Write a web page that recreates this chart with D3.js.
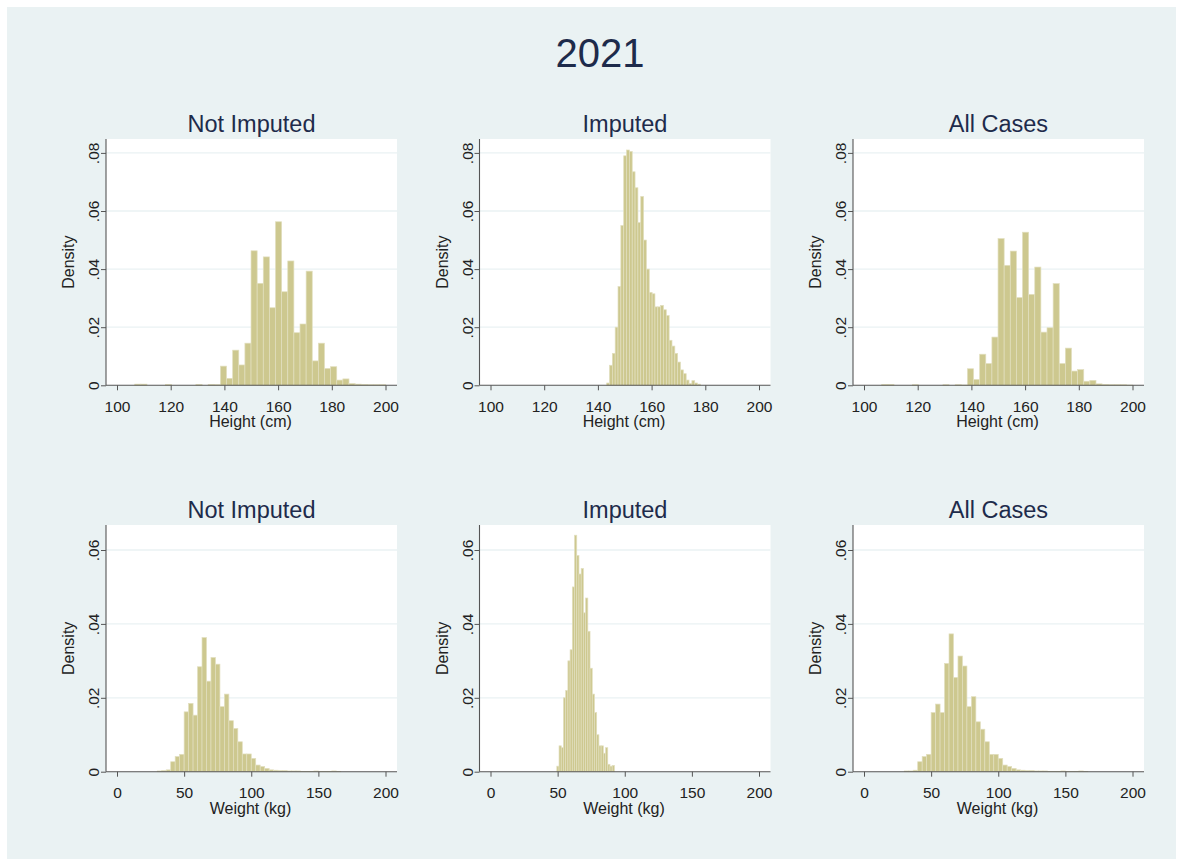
<!DOCTYPE html>
<html>
<head>
<meta charset="utf-8">
<script src="https://cdn.jsdelivr.net/npm/d3@7"></script>
<style>
  html, body { margin: 0; padding: 0; background: #ffffff; }
  svg text { font-family: "Liberation Sans", Arial, Helvetica, sans-serif; }
</style>
</head>
<body>
<svg id="chart" width="1183" height="866"></svg>
<script>
// ---- Figure text ----
const mainTitle = "2021";
const panelTitles = ["Not Imputed", "Imputed", "All Cases"];
const heightAxisTitle = "Height (cm)";
const weightAxisTitle = "Weight (kg)";
const densityTitle = "Density";

// ---- Axis ticks ----
const heightTicks = [100, 120, 140, 160, 180, 200];
const weightTicks = [0, 50, 100, 150, 200];
const heightDensityTicks = [0, 0.02, 0.04, 0.06, 0.08];
const weightDensityTicks = [0, 0.02, 0.04, 0.06];

// ---- Histogram bins: first edge and bin width ----
const heightBinStart = 106.6, heightBinWidth = 2.28;          // not imputed & all cases
const heightImpBinStart = 143.26, heightImpBinWidth = 1.058;  // imputed
const weightBinStart = 30, weightBinWidth = 3.3333;           // not imputed & all cases
const weightImpBinStart = 49.4, weightImpBinWidth = 1.65;     // imputed

// ---- Densities per bin ----
const heightNotImputed = [
  0.0004, 0.0004, 0, 0, 0, 0.0003, 0, 0, 0, 0, 0.0003, 0, 0.0003, 0.0002,
  0.0066, 0.0024, 0.0121, 0.0070, 0.0145, 0.0463, 0.0351, 0.0442, 0.0267, 0.0563,
  0.0322, 0.0428, 0.0181, 0.0211, 0.0393, 0.0084, 0.0145, 0.0058, 0.0064, 0.0018, 0.0022,
  0.0006, 0.0004, 0.0003, 0.0002, 0.0002, 0.0002
];
const heightImputed = [
  0.0008, 0.0069, 0.0110, 0.0200, 0.0340, 0.0550, 0.0790, 0.0810, 0.0805, 0.0735,
  0.0680, 0.0560, 0.0650, 0.0500, 0.0400, 0.0320, 0.0315, 0.0270, 0.0270, 0.0275,
  0.0260, 0.0240, 0.0155, 0.0135, 0.0110, 0.0080, 0.0053, 0.0040, 0.0018, 0.0006,
  0.0016, 0.0008, 0.0004
];
const heightAllCases = [
  0.0003, 0.0003, 0, 0, 0, 0.0002, 0, 0, 0, 0, 0.0002, 0, 0.0002, 0.0001,
  0.0057, 0.0020, 0.0107, 0.0075, 0.0166, 0.0505, 0.0413, 0.0462, 0.0302, 0.0527,
  0.0313, 0.0407, 0.0183, 0.0198, 0.0350, 0.0075, 0.0128, 0.0049, 0.0054, 0.0014, 0.0017,
  0.0005, 0.0003, 0.0002, 0.0002, 0.0002, 0.0001
];
const weightNotImputed = [
  0.0002, 0.0003, 0.0005,
  0.0027, 0.0041, 0.0047, 0.0162, 0.0185, 0.0153, 0.0284, 0.0363, 0.0245, 0.0309,
  0.0291, 0.0176, 0.0210, 0.0138, 0.0117, 0.0081, 0.0048, 0.0048, 0.0036, 0.0018,
  0.0014, 0.0009,
  0.0005, 0.0004, 0.0003, 0.0003, 0.0002, 0.0002, 0.0002, 0.0001, 0.0001, 0.0001,
  0.0002, 0.0001, 0.0001, 0.0001, 0.0002, 0.0001
];
const weightImputed = [
  0.0015, 0.0070, 0.0065, 0.0200, 0.0220, 0.0300, 0.0330, 0.0500, 0.0640, 0.0585,
  0.0535, 0.0550, 0.0430, 0.0470, 0.0380, 0.0280, 0.0210, 0.0160, 0.0100, 0.0070,
  0.0070, 0.0050, 0.0065, 0.0020, 0.0015, 0.0017
];
const weightAllCases = [
  0.0002, 0.0002, 0.0004,
  0.0027, 0.0041, 0.0047, 0.0160, 0.0183, 0.0160, 0.0293, 0.0373, 0.0255, 0.0313,
  0.0286, 0.0176, 0.0203, 0.0135, 0.0115, 0.0081, 0.0047, 0.0047, 0.0036, 0.0018,
  0.0014, 0.0009,
  0.0005, 0.0004, 0.0003, 0.0003, 0.0002, 0.0002, 0.0002, 0.0001, 0.0001, 0.0001,
  0.0002, 0.0001, 0.0001, 0.0001, 0.0002, 0.0001
];

// ---- Panel definitions ----
const panels = [
  { row: 0, col: 0, title: panelTitles[0], kind: "height", start: heightBinStart, width: heightBinWidth, values: heightNotImputed },
  { row: 0, col: 1, title: panelTitles[1], kind: "height", start: heightImpBinStart, width: heightImpBinWidth, values: heightImputed },
  { row: 0, col: 2, title: panelTitles[2], kind: "height", start: heightBinStart, width: heightBinWidth, values: heightAllCases },
  { row: 1, col: 0, title: panelTitles[0], kind: "weight", start: weightBinStart, width: weightBinWidth, values: weightNotImputed },
  { row: 1, col: 1, title: panelTitles[1], kind: "weight", start: weightImpBinStart, width: weightImpBinWidth, values: weightImputed },
  { row: 1, col: 2, title: panelTitles[2], kind: "weight", start: weightBinStart, width: weightBinWidth, values: weightAllCases }
];

const axisSpec = {
  height: { domain: [100, 200], ticks: heightTicks, yTicks: heightDensityTicks, yTop: 0.08, yTopPx: 232.4, title: heightAxisTitle },
  weight: { domain: [0, 200],   ticks: weightTicks, yTicks: weightDensityTicks, yTop: 0.06, yTopPx: 221.7, title: weightAxisTitle }
};

// ---- Layout ----
const W = 1183, H = 866;
const colLeft = [106, 479.5, 853];
const rowAxisY = [385.3, 771.7];
const rowPlotH = [246.3, 246.7];
const plotW = 291;
const tickInsetL = 11, tickInsetR = 11.5;

const colors = {
  page: "#ffffff",
  region: "#eaf2f3",
  plot: "#ffffff",
  grid: "#eaf2f3",
  bar: "#cdc88f",
  barEdge: "#e2dfbf",
  axis: "#555555",
  text: "#222222",
  title: "#1e2b4b"
};

const svg = d3.select("#chart");
svg.append("rect").attr("width", W).attr("height", H).attr("fill", colors.page);
svg.append("rect").attr("x", 7).attr("y", 7).attr("width", 1169).attr("height", 852).attr("fill", colors.region);

svg.append("text")
  .attr("x", 600).attr("y", 67)
  .attr("text-anchor", "middle")
  .attr("font-size", 40)
  .attr("fill", colors.title)
  .text(mainTitle);

const fmtDensity = d => d === 0 ? "0" : d3.format(".2f")(d).replace(/^0/, "");

panels.forEach(p => {
  const spec = axisSpec[p.kind];
  const left = colLeft[p.col];
  const axisY = rowAxisY[p.row];
  const plotH = rowPlotH[p.row];
  const top = axisY - plotH;

  const x = d3.scaleLinear().domain(spec.domain).range([left + tickInsetL, left + plotW - tickInsetR]);
  const y = d3.scaleLinear().domain([0, spec.yTop]).range([axisY, axisY - spec.yTopPx]);

  const g = svg.append("g");

  // plot region
  g.append("rect")
    .attr("x", left).attr("y", top)
    .attr("width", plotW).attr("height", plotH)
    .attr("fill", colors.plot);

  // horizontal grid lines
  g.selectAll("line.grid")
    .data(spec.yTicks.filter(t => t > 0))
    .join("line")
    .attr("class", "grid")
    .attr("x1", left).attr("x2", left + plotW)
    .attr("y1", d => y(d)).attr("y2", d => y(d))
    .attr("stroke", colors.grid)
    .attr("stroke-width", 1.3);

  // histogram bars
  const bins = p.values.map((v, i) => ({ x0: p.start + i * p.width, x1: p.start + (i + 1) * p.width, v }))
    .filter(b => b.v > 0);
  g.selectAll("rect.bar")
    .data(bins)
    .join("rect")
    .attr("class", "bar")
    .attr("x", b => x(b.x0))
    .attr("width", b => x(b.x1) - x(b.x0))
    .attr("y", b => y(b.v))
    .attr("height", b => axisY - y(b.v))
    .attr("fill", colors.bar)
    .attr("stroke", colors.barEdge)
    .attr("stroke-width", 0.7);

  // x axis
  const xAxis = g.append("g")
    .attr("transform", `translate(0,${axisY})`)
    .call(d3.axisBottom(x).tickValues(spec.ticks).tickSize(5).tickSizeOuter(0).tickFormat(d3.format("d")));
  xAxis.select(".domain").remove();
  xAxis.selectAll(".tick line").attr("stroke", colors.axis);
  xAxis.selectAll(".tick text")
    .attr("y", 26.3).attr("dy", 0)
    .attr("font-size", 15.5)
    .attr("fill", colors.text)
    .attr("font-family", null);
  xAxis.append("line")
    .attr("x1", left).attr("x2", left + plotW)
    .attr("y1", 0).attr("y2", 0)
    .attr("stroke", colors.axis).attr("stroke-width", 1.1);

  // y axis
  const yAxis = g.append("g")
    .attr("transform", `translate(${left},0)`)
    .call(d3.axisLeft(y).tickValues(spec.yTicks).tickSize(5).tickSizeOuter(0).tickFormat(fmtDensity));
  yAxis.select(".domain").remove();
  yAxis.selectAll(".tick line").attr("stroke", colors.axis);
  yAxis.selectAll(".tick text")
    .attr("x", 0).attr("y", 0).attr("dy", 0)
    .attr("text-anchor", "middle")
    .attr("transform", "translate(-7,0) rotate(-90)")
    .attr("font-size", 15.5)
    .attr("fill", colors.text)
    .attr("font-family", null);
  yAxis.append("line")
    .attr("x1", 0).attr("x2", 0)
    .attr("y1", top).attr("y2", axisY)
    .attr("stroke", colors.axis).attr("stroke-width", 1.1);

  // axis titles
  g.append("text")
    .attr("x", left + plotW / 2 - 1).attr("y", axisY + 42)
    .attr("text-anchor", "middle")
    .attr("font-size", 16)
    .attr("fill", colors.text)
    .text(spec.title);
  g.append("text")
    .attr("transform", `translate(${left - 32},${top + plotH / 2}) rotate(-90)`)
    .attr("text-anchor", "middle")
    .attr("font-size", 16)
    .attr("fill", colors.text)
    .text(densityTitle);

  // panel title
  g.append("text")
    .attr("x", left + plotW / 2).attr("y", top - 7)
    .attr("text-anchor", "middle")
    .attr("font-size", 23.5)
    .attr("fill", colors.title)
    .text(p.title);
});
</script>
</body>
</html>
